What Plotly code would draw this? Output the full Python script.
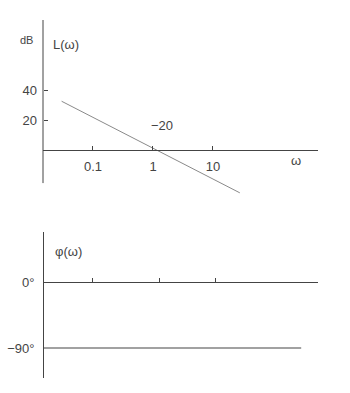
import plotly.graph_objects as go

# Data
mag_w = [0.03, 28]
mag_db = [33, -29]
phase_w = [0.0147, 295]
phase_deg = [-90, -90]
mag_xticks = [0.1, 1, 10]
mag_xticklabels = ["0.1", "1", "10"]
mag_yticks = [20, 40]
mag_yticklabels = ["20", "40"]
phase_yticks = [0, -90]
phase_yticklabels = ["0°", "−90°"]
phase_xticks = [0.1, 1.3, 11]

W, H = 350, 393
ink = "#444444"
line_col = "#8a8a8a"
fnt = dict(family="Liberation Sans, DejaVu Sans", size=13, color=ink)
small = dict(family="Liberation Sans, DejaVu Sans", size=11, color=ink)

def px(x):
    return x / W

def py(y):
    return (H - y) / H

fig = go.Figure()
fig.add_trace(go.Scatter(x=mag_w, y=mag_db, mode="lines",
                         line=dict(color=line_col, width=1), xaxis="x", yaxis="y",
                         showlegend=False, hoverinfo="skip"))
fig.add_trace(go.Scatter(x=phase_w, y=phase_deg, mode="lines",
                         line=dict(color=ink, width=1.2), xaxis="x2", yaxis="y2",
                         showlegend=False, hoverinfo="skip"))

xdom = [px(43), px(318)]
xrange = [-1.833, 2.75]

fig.update_layout(
    width=W, height=H, margin=dict(l=0, r=0, t=0, b=0),
    paper_bgcolor="white", plot_bgcolor="rgba(0,0,0,0)",
    font=fnt,
    xaxis=dict(type="log", domain=xdom, range=xrange, anchor="free", position=py(150),
               showgrid=False, zeroline=False, showline=True, linecolor=ink, linewidth=1,
               tickvals=mag_xticks, ticktext=mag_xticklabels, ticks="inside", ticklen=4,
               tickcolor=ink, tickfont=fnt, ticklabelstandoff=4),
    yaxis=dict(domain=[py(198), py(20)], range=[-32.5, 88], anchor="free", position=px(43),
               showgrid=False, zeroline=False, showline=False,
               tickvals=mag_yticks, ticktext=mag_yticklabels, ticks="inside", ticklen=4,
               tickcolor=ink, tickfont=fnt, ticklabelstandoff=6),
    xaxis2=dict(type="log", domain=xdom, range=xrange, anchor="free", position=py(282),
                showgrid=False, zeroline=False, showline=True, linecolor=ink, linewidth=1,
                tickvals=phase_xticks, showticklabels=False, ticks="inside", ticklen=4,
                tickcolor=ink),
    yaxis2=dict(domain=[py(378), py(232)], range=[-130.9, 68.2], anchor="free", position=px(43),
                showgrid=False, zeroline=False, showline=True, linecolor=ink, linewidth=1,
                tickvals=phase_yticks, ticktext=phase_yticklabels, ticks="",
                tickfont=fnt, ticklabelstandoff=6),
)

# top y-axis line (shorter than the plot area)
fig.add_shape(type="line", xref="paper", yref="y", x0=px(43), x1=px(43), y0=-22.4, y1=88,
              line=dict(color=ink, width=1))

annots = [
    ("dB", 26, 40, small),
    ("L(ω)", 66, 45, fnt),
    ("−20", 162, 126, fnt),
    ("ω", 296, 160, fnt),
    ("φ(ω)", 68, 252, fnt),
]
for txt, x, y, f in annots:
    fig.add_annotation(text=txt, xref="paper", yref="paper", x=px(x), y=py(y),
                       showarrow=False, font=f, xanchor="center", yanchor="middle")

fig.write_html("out.html")
